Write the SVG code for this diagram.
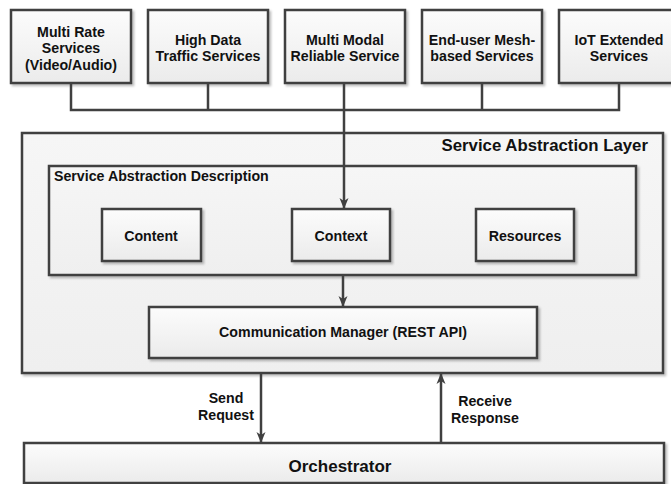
<svg xmlns="http://www.w3.org/2000/svg" width="671" height="484" viewBox="0 0 671 484">
<defs>
<linearGradient id="g" x1="0" y1="0" x2="0" y2="1"><stop offset="0" stop-color="#fcfcfc"/><stop offset="1" stop-color="#ebebeb"/></linearGradient>
<linearGradient id="g2" x1="0" y1="0" x2="0" y2="1"><stop offset="0" stop-color="#f6f6f6"/><stop offset="1" stop-color="#efefef"/></linearGradient>
<filter id="sh" x="-5%" y="-5%" width="110%" height="120%"><feDropShadow dx="2" dy="2" stdDeviation="1.2" flood-color="#000" flood-opacity="0.25"/></filter>
<marker id="ar" markerUnits="userSpaceOnUse" markerWidth="12" markerHeight="12" viewBox="0 0 12 12" refX="11" refY="6" orient="auto"><path d="M0,1.5 L11,6 L0,10.5 L3,6 Z" fill="#404040"/></marker>
</defs>
<style>
.b{fill:url(#g);stroke:#404040;stroke-width:2.5;filter:url(#sh)}
.o{fill:url(#g2);stroke:#404040;stroke-width:2.5;filter:url(#sh)}
.t{font-family:"Liberation Sans",Arial,sans-serif;font-weight:bold;font-size:14.2px;fill:#111;text-anchor:middle}
.l{fill:none;stroke:#404040;stroke-width:2.5}
</style>
<g id="sal">
<rect class="o" x="22" y="133" width="641" height="240"/>
<text class="t" x="648" y="151" style="font-size:16.8px;text-anchor:end">Service Abstraction Layer</text>
</g>
<g id="sad">
<rect class="o" x="49" y="166" width="587" height="109"/>
<text class="t" x="54" y="181" style="text-anchor:start">Service Abstraction Description</text>
</g>
<g id="s1"><rect class="b" x="11" y="10" width="120" height="73"/><text class="t" x="71" y="37">Multi Rate</text><text class="t" x="71" y="53">Services</text><text class="t" x="71" y="70">(Video/Audio)</text></g>
<g id="s2"><rect class="b" x="148" y="10" width="120" height="73"/><text class="t" x="208" y="45">High Data</text><text class="t" x="208" y="61">Traffic Services</text></g>
<g id="s3"><rect class="b" x="285" y="10" width="120" height="73"/><text class="t" x="345" y="45">Multi Modal</text><text class="t" x="345" y="61">Reliable Service</text></g>
<g id="s4"><rect class="b" x="422" y="10" width="120" height="73"/><text class="t" x="482" y="45">End-user Mesh-</text><text class="t" x="482" y="61">based Services</text></g>
<g id="s5"><rect class="b" x="559" y="10" width="120" height="73"/><text class="t" x="619" y="45">IoT Extended</text><text class="t" x="619" y="61">Services</text></g>
<g id="content"><rect class="b" x="102" y="209" width="99" height="52"/><text class="t" x="151" y="241">Content</text></g>
<g id="context"><rect class="b" x="292" y="209" width="98" height="52"/><text class="t" x="341" y="241">Context</text></g>
<g id="resources"><rect class="b" x="476" y="209" width="98" height="52"/><text class="t" x="525" y="241">Resources</text></g>
<g id="comm"><rect class="b" x="149" y="307" width="388" height="51"/><text class="t" x="343" y="337">Communication Manager (REST API)</text></g>
<g id="orch"><rect class="b" x="24" y="443" width="640" height="40"/><text class="t" x="340" y="472" style="font-size:17px">Orchestrator</text></g>
<g id="connectors">
<path class="l" d="M71,83 V110 H619 V83 M208,83 V110 M482,83 V110"/>
<path class="l" d="M344,83 V209" marker-end="url(#ar)"/>
<path class="l" d="M343,275 V307" marker-end="url(#ar)"/>
<path class="l" d="M261,373 V443" marker-end="url(#ar)"/>
<path class="l" d="M441,443 V373" marker-end="url(#ar)"/>
<text class="t" x="226" y="403">Send</text>
<text class="t" x="226" y="420">Request</text>
<text class="t" x="485" y="406">Receive</text>
<text class="t" x="485" y="423">Response</text>
</g>
</svg>
